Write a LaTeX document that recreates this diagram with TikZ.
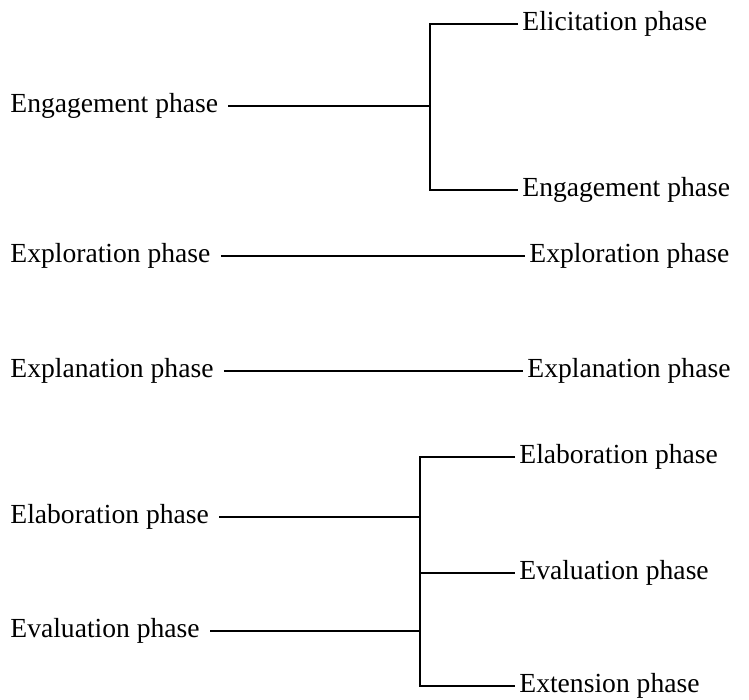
\documentclass[tikz,border=0pt]{standalone}
\usepackage{fontspec}
\setmainfont{Liberation Serif}

\begin{document}
\begin{tikzpicture}[x=0.5pt,y=-0.5pt,
    leftlabel/.style={anchor=west,inner xsep=5pt,inner ysep=0pt,font=\fontsize{13.8}{16}\selectfont},
    rightlabel/.style={anchor=west,inner xsep=2pt,inner ysep=0pt,font=\fontsize{13.8}{16}\selectfont},
    link/.style={draw=black,line width=0.6pt}]
          \useasboundingbox (0,0) rectangle (749,700);
          % left column
          \node[leftlabel] (l-eng) at (0,106)  {Engagement phase};
          \node[leftlabel] (l-exp) at (0,256)  {Exploration phase};
          \node[leftlabel] (l-ex)  at (0,371)  {Explanation phase};
          \node[leftlabel] (l-ela) at (0,517)  {Elaboration phase};
          \node[leftlabel] (l-eva) at (0,631)  {Evaluation phase};
          % right column
          \node[rightlabel] (r-eli) at (518,24)  {Elicitation phase};
          \node[rightlabel] (r-eng) at (518,190) {Engagement phase};
          \node[rightlabel] (r-exp) at (525,256) {Exploration phase};
          \node[rightlabel] (r-ex)  at (523,371) {Explanation phase};
          \node[rightlabel] (r-ela) at (515,457) {Elaboration phase};
          \node[rightlabel] (r-eva) at (515,573) {Evaluation phase};
          \node[rightlabel] (r-ext) at (515,686) {Extension phase};
          % junctions
          \coordinate (j1) at (430,106);
          \coordinate (j2) at (420,517);
          \coordinate (j3) at (420,631);
          % connectors
          \draw[link] (l-eng.east) -- (j1);
          \draw[link] (r-eli.west) -| (j1) |- (r-eng.west);
          \draw[link] (l-exp.east) -- (r-exp.west);
          \draw[link] (l-ex.east) -- (r-ex.west);
          \draw[link] (l-ela.east) -- (j2);
          \draw[link] (l-eva.east) -- (j3);
          \draw[link] (r-ela.west) -| (j2) |- (r-ext.west);
          \draw[link] (j2 |- r-eva.west) -- (r-eva.west);
        \end{tikzpicture}
\end{document}
